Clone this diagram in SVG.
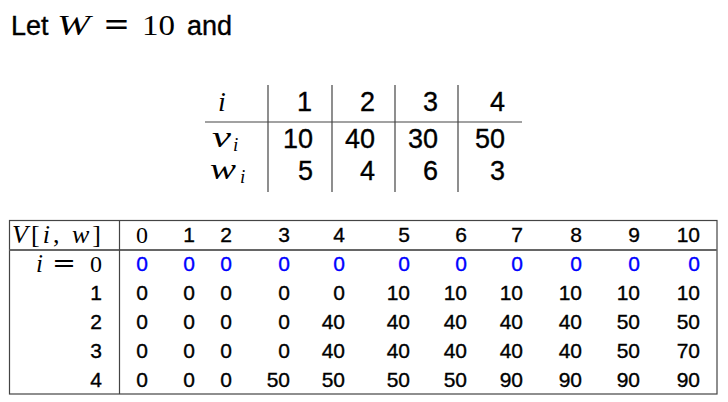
<svg xmlns="http://www.w3.org/2000/svg" width="728" height="402" viewBox="0 0 728 402">
<style>
.s{font-family:"Liberation Sans",Arial,sans-serif;fill:#000;stroke:#000;stroke-width:0.35}
.m{font-family:"Liberation Serif","Times New Roman",serif;fill:#000}
.q{font-family:"DejaVu Serif","Liberation Serif",serif;fill:#000}
.it{font-style:italic}
.t27{font-size:27px}
.t21{font-size:21px}
.e{text-anchor:end}
.b{fill:#0000ff;stroke:#0000ff}
.ln{stroke:#444;stroke-width:1.2;fill:none}
</style>
<rect width="728" height="402" fill="#fff"/>
<g id="title">
<text class="s t27" x="11" y="35">Let</text>
<text class="m it" style="font-size:30px" x="57" y="35" textLength="33" lengthAdjust="spacingAndGlyphs">W</text>
<text class="q" style="font-size:31px" x="103" y="35" textLength="27" lengthAdjust="spacingAndGlyphs">=</text>
<text class="m" style="font-size:29px" x="142" y="35" textLength="33" lengthAdjust="spacingAndGlyphs">10</text>
<text class="s t27" x="187" y="35">and</text>
</g>
<g id="items-table">
<line class="ln" x1="205" y1="122" x2="522" y2="122"/>
<line class="ln" x1="268" y1="85" x2="268" y2="192"/>
<line class="ln" x1="332" y1="85" x2="332" y2="192"/>
<line class="ln" x1="395" y1="85" x2="395" y2="192"/>
<line class="ln" x1="458" y1="85" x2="458" y2="192"/>
<text class="m it" style="font-size:28px" x="218" y="111">i</text>
<text class="m it" style="font-size:30px" x="212" y="147" textLength="19" lengthAdjust="spacingAndGlyphs">v</text>
<text class="m it" style="font-size:19px" x="233" y="151">i</text>
<text class="m it" style="font-size:30px" x="210" y="179" textLength="26" lengthAdjust="spacingAndGlyphs">w</text>
<text class="m it" style="font-size:19px" x="240" y="183">i</text>
<g class="s t27 e">
<text x="312" y="111">1</text><text x="375" y="111">2</text><text x="438" y="111">3</text><text x="505" y="111">4</text>
<text x="313" y="148">10</text><text x="375" y="148">40</text><text x="438" y="148">30</text><text x="505" y="148">50</text>
<text x="313" y="180">5</text><text x="375" y="180">4</text><text x="438" y="180">6</text><text x="505" y="180">3</text>
</g>
</g>
<g id="value-table">
<rect x="9.5" y="220.5" width="707.5" height="173.5" class="ln"/>
<line x1="9.5" y1="250" x2="717" y2="250" stroke="#666" stroke-width="2"/>
<line class="ln" x1="119.5" y1="220.5" x2="119.5" y2="394"/>
<text class="m it" style="font-size:26px" x="12" y="243" textLength="89" lengthAdjust="spacing">V<tspan font-style="normal">[</tspan>i<tspan font-style="normal">,</tspan> w<tspan font-style="normal">]</tspan></text>
<text class="m it" style="font-size:25px" x="36" y="272">i</text>
<text class="q" style="font-size:26px" x="52" y="272" textLength="24" lengthAdjust="spacingAndGlyphs">=</text>
<text class="m e" style="font-size:24px" x="102" y="272">0</text>
<text class="m e" style="font-size:24px" x="148" y="243">0</text>
<g class="s t21 e">
<text x="102" y="300">1</text><text x="102" y="329">2</text><text x="102" y="358">3</text><text x="102" y="387">4</text>
</g>
<g class="s t21 e">
<text x="195" y="242">1</text><text x="232" y="242">2</text><text x="290" y="242">3</text><text x="345" y="242">4</text><text x="410" y="242">5</text><text x="467" y="242">6</text><text x="523" y="242">7</text><text x="582" y="242">8</text><text x="640" y="242">9</text><text x="700" y="242">10</text>
</g>
<g class="s t21 e b">
<text x="148" y="271">0</text><text x="195" y="271">0</text><text x="232" y="271">0</text><text x="290" y="271">0</text><text x="345" y="271">0</text><text x="410" y="271">0</text><text x="467" y="271">0</text><text x="523" y="271">0</text><text x="582" y="271">0</text><text x="640" y="271">0</text><text x="700" y="271">0</text>
</g>
<g class="s t21 e">
<text x="148" y="300">0</text><text x="195" y="300">0</text><text x="232" y="300">0</text><text x="290" y="300">0</text><text x="345" y="300">0</text><text x="410" y="300">10</text><text x="467" y="300">10</text><text x="523" y="300">10</text><text x="582" y="300">10</text><text x="640" y="300">10</text><text x="700" y="300">10</text>
<text x="148" y="329">0</text><text x="195" y="329">0</text><text x="232" y="329">0</text><text x="290" y="329">0</text><text x="345" y="329">40</text><text x="410" y="329">40</text><text x="467" y="329">40</text><text x="523" y="329">40</text><text x="582" y="329">40</text><text x="640" y="329">50</text><text x="700" y="329">50</text>
<text x="148" y="358">0</text><text x="195" y="358">0</text><text x="232" y="358">0</text><text x="290" y="358">0</text><text x="345" y="358">40</text><text x="410" y="358">40</text><text x="467" y="358">40</text><text x="523" y="358">40</text><text x="582" y="358">40</text><text x="640" y="358">50</text><text x="700" y="358">70</text>
<text x="148" y="387">0</text><text x="195" y="387">0</text><text x="232" y="387">0</text><text x="290" y="387">50</text><text x="345" y="387">50</text><text x="410" y="387">50</text><text x="467" y="387">50</text><text x="523" y="387">90</text><text x="582" y="387">90</text><text x="640" y="387">90</text><text x="700" y="387">90</text>
</g>
</g>
</svg>
